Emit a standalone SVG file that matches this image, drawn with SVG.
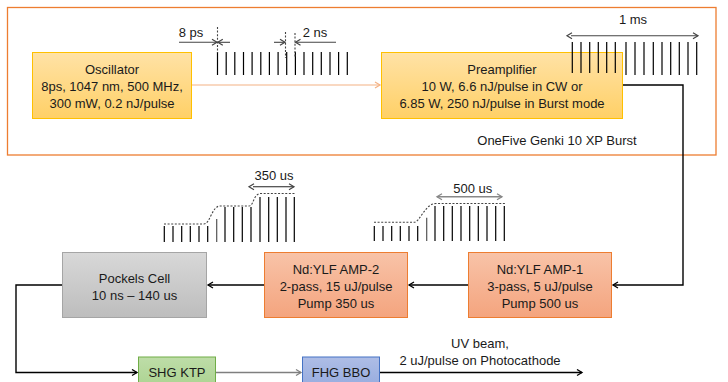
<svg xmlns="http://www.w3.org/2000/svg" width="728" height="382" viewBox="0 0 728 382">
<style>
text{font-family:"Liberation Sans",Arial,sans-serif;font-size:13px;fill:#1a1a1a;text-anchor:middle}
.conn{fill:none;stroke:#000;stroke-width:1.4}
.pulse{stroke:#000;stroke-width:1.2}
.dash{fill:none;stroke:#444;stroke-width:1.1;stroke-dasharray:2 1.6}
.dim{stroke:#444;stroke-width:1.1;fill:none}
</style>
<defs>
<linearGradient id="gY" x1="0" y1="0" x2="0" y2="1"><stop offset="0" stop-color="#FFE2A6"/><stop offset="1" stop-color="#FFD066"/></linearGradient>
<linearGradient id="gO" x1="0" y1="0" x2="0" y2="1"><stop offset="0" stop-color="#F8C3A8"/><stop offset="1" stop-color="#F4A47E"/></linearGradient>
<linearGradient id="gG" x1="0" y1="0" x2="0" y2="1"><stop offset="0" stop-color="#D8D8D8"/><stop offset="1" stop-color="#BDBDBD"/></linearGradient>
<linearGradient id="gGr" x1="0" y1="0" x2="0" y2="1"><stop offset="0" stop-color="#BEDDA8"/><stop offset="1" stop-color="#A6D08A"/></linearGradient>
<linearGradient id="gB" x1="0" y1="0" x2="0" y2="1"><stop offset="0" stop-color="#AEBDE6"/><stop offset="1" stop-color="#8FA6DC"/></linearGradient>
<marker id="ah" markerWidth="8" markerHeight="8" refX="6" refY="4" orient="auto" markerUnits="userSpaceOnUse"><path d="M1,1 L6,4 L1,7" fill="none" stroke="context-stroke" stroke-width="1.3"/></marker>
<marker id="ahk" markerWidth="8" markerHeight="8" refX="6" refY="4" orient="auto" markerUnits="userSpaceOnUse"><path d="M1,1 L6,4 L1,7" fill="none" stroke="#000" stroke-width="1.3"/></marker>
<marker id="ahg" markerWidth="8" markerHeight="8" refX="6" refY="4" orient="auto" markerUnits="userSpaceOnUse"><path d="M1,1 L6,4 L1,7" fill="none" stroke="#444" stroke-width="1.2"/></marker>
<marker id="ahgs" markerWidth="8" markerHeight="8" refX="2" refY="4" orient="auto-start-reverse" markerUnits="userSpaceOnUse"><path d="M1,1 L6,4 L1,7" fill="none" stroke="#444" stroke-width="1.2"/></marker>
<marker id="aho" markerWidth="8" markerHeight="8" refX="6" refY="4" orient="auto" markerUnits="userSpaceOnUse"><path d="M1,1 L6,4 L1,7" fill="none" stroke="#F4B183" stroke-width="1.2"/></marker>
<marker id="ahgr" markerWidth="8" markerHeight="8" refX="6" refY="4" orient="auto" markerUnits="userSpaceOnUse"><path d="M1,1 L6,4 L1,7" fill="none" stroke="#7F7F7F" stroke-width="1.2"/></marker>
<marker id="ahl" markerWidth="8" markerHeight="8" refX="6" refY="4" orient="auto-start-reverse" markerUnits="userSpaceOnUse"><path d="M1,1 L6,4 L1,7" fill="none" stroke="#888" stroke-width="1.3"/></marker>
</defs>
<rect width="728" height="382" fill="#fff"/>
<g id="laser-system">
<rect x="7.5" y="7.5" width="708.5" height="147.5" fill="none" stroke="#ED7D31" stroke-width="1.3"/>
<text x="557" y="144.5">OneFive Genki 10 XP Burst</text>
</g>
<g id="connectors">
<line x1="192" y1="85" x2="380" y2="85" stroke="#F4B183" stroke-width="1.2" marker-end="url(#aho)"/>
<path class="conn" d="M623,85 H683 V285 H613" marker-end="url(#ahk)"/>
<line class="conn" x1="468" y1="285" x2="409" y2="285" stroke-width="1.2" marker-end="url(#ahk)"/>
<line class="conn" x1="264" y1="285" x2="208" y2="285" stroke-width="1.2" marker-end="url(#ahk)"/>
<path class="conn" d="M62,285 H16 V372.5 H137" marker-end="url(#ahk)"/>
<line x1="216" y1="372.5" x2="301" y2="372.5" stroke="#7F7F7F" stroke-width="1.3" marker-end="url(#ahgr)"/>
<line class="conn" x1="380" y1="372.5" x2="582" y2="372.5" marker-end="url(#ahk)"/>
</g>
<g id="oscillator">
<rect x="32.5" y="52.5" width="159" height="66" fill="url(#gY)" stroke="#FFC000" stroke-width="1"/>
<text x="112" y="74">Oscillator</text>
<text x="112" y="91">8ps, 1047 nm, 500 MHz,</text>
<text x="112" y="108">300 mW, 0.2 nJ/pulse</text>
</g>
<g id="preamplifier">
<rect x="381.5" y="52.5" width="241" height="66" fill="url(#gY)" stroke="#FFC000" stroke-width="1"/>
<text x="502" y="74">Preamplifier</text>
<text x="502" y="91">10 W, 6.6 nJ/pulse in CW or</text>
<text x="502" y="108">6.85 W, 250 nJ/pulse in Burst mode</text>
</g>
<g id="amp1">
<rect x="468.5" y="252.5" width="143" height="65" fill="url(#gO)" stroke="#ED7D31" stroke-width="1"/>
<text x="540" y="273.5">Nd:YLF AMP-1</text>
<text x="540" y="290.5">3-pass, 5 uJ/pulse</text>
<text x="540" y="307.5">Pump 500 us</text>
</g>
<g id="amp2">
<rect x="264.5" y="252.5" width="143" height="65" fill="url(#gO)" stroke="#ED7D31" stroke-width="1"/>
<text x="336" y="273.5">Nd:YLF AMP-2</text>
<text x="336" y="290.5">2-pass, 15 uJ/pulse</text>
<text x="336" y="307.5">Pump 350 us</text>
</g>
<g id="pockels">
<rect x="62.5" y="252.5" width="144" height="65" fill="url(#gG)" stroke="#A5A5A5" stroke-width="1"/>
<text x="134.5" y="282.5">Pockels Cell</text>
<text x="134.5" y="299.5">10 ns – 140 us</text>
</g>
<g id="shg">
<rect x="138.5" y="357" width="77" height="40" fill="url(#gGr)" stroke="#70AD47" stroke-width="1"/>
<text x="177" y="377">SHG KTP</text>
</g>
<g id="fhg">
<rect x="302.5" y="357" width="77" height="40" fill="url(#gB)" stroke="#4472C4" stroke-width="1"/>
<text x="341" y="377">FHG BBO</text>
</g>
<g id="uv-label">
<text x="480" y="347.5">UV beam,</text>
<text x="480" y="365">2 uJ/pulse on Photocathode</text>
</g>
<g id="pulse-trains">
<g class="pulse">
<line x1="217.5" y1="52" x2="217.5" y2="75"/><line x1="226.2" y1="52" x2="226.2" y2="75"/><line x1="234.8" y1="52" x2="234.8" y2="75"/><line x1="243.5" y1="52" x2="243.5" y2="75"/><line x1="252.1" y1="52" x2="252.1" y2="75"/><line x1="260.8" y1="52" x2="260.8" y2="75"/><line x1="269.4" y1="52" x2="269.4" y2="75"/><line x1="278.1" y1="52" x2="278.1" y2="75"/><line x1="286.7" y1="52" x2="286.7" y2="75"/><line x1="295.4" y1="52" x2="295.4" y2="75"/><line x1="304" y1="52" x2="304" y2="75"/><line x1="312.7" y1="52" x2="312.7" y2="75"/><line x1="321.3" y1="52" x2="321.3" y2="75"/><line x1="330" y1="52" x2="330" y2="75"/><line x1="338.6" y1="52" x2="338.6" y2="75"/><line x1="347.3" y1="52" x2="347.3" y2="75"/>
</g>
<g class="dim">
<line x1="179" y1="42.3" x2="217" y2="42.3" marker-end="url(#ahg)"/>
<line x1="230" y1="42.3" x2="217.8" y2="42.3" marker-end="url(#ahg)"/>
<line x1="274" y1="42.3" x2="285" y2="42.3" marker-end="url(#ahg)"/>
<line x1="336" y1="42.3" x2="295.5" y2="42.3" marker-end="url(#ahg)"/>
</g>
<line class="dash" x1="217.5" y1="27" x2="217.5" y2="53"/>
<line class="dash" x1="285.5" y1="32" x2="285.5" y2="58"/>
<line class="dash" x1="295" y1="33" x2="295" y2="58"/>
<text x="191" y="37">8 ps</text>
<text x="315" y="37">2 ns</text>
<g class="pulse">
<line x1="572.3" y1="42" x2="572.3" y2="73"/><line x1="581" y1="42" x2="581" y2="73"/><line x1="589.7" y1="42" x2="589.7" y2="73"/><line x1="598.3" y1="42" x2="598.3" y2="73"/><line x1="606.7" y1="42" x2="606.7" y2="73"/><line x1="615.3" y1="42" x2="615.3" y2="73"/><line x1="626" y1="42" x2="626" y2="75"/><line x1="635" y1="42" x2="635" y2="75"/><line x1="644" y1="42" x2="644" y2="75"/><line x1="653.3" y1="42" x2="653.3" y2="75"/><line x1="662" y1="42" x2="662" y2="75"/><line x1="670.7" y1="42" x2="670.7" y2="75"/><line x1="679.3" y1="42" x2="679.3" y2="75"/><line x1="688" y1="42" x2="688" y2="75"/><line x1="696.7" y1="42" x2="696.7" y2="75"/>
</g>
<line x1="571" y1="35.7" x2="698" y2="35.7" stroke="#444" stroke-width="1.1" marker-start="url(#ahgs)" marker-end="url(#ahg)"/>
<text x="633" y="24">1 ms</text>
<g class="pulse">
<line x1="164.3" y1="226" x2="164.3" y2="242"/><line x1="173" y1="226" x2="173" y2="242"/><line x1="181.7" y1="226" x2="181.7" y2="242"/><line x1="190.3" y1="226" x2="190.3" y2="242"/><line x1="199" y1="226" x2="199" y2="242"/><line x1="207.7" y1="226" x2="207.7" y2="242"/><line x1="216.7" y1="219" x2="216.7" y2="242" stroke="#555"/><line x1="225" y1="207" x2="225" y2="242"/><line x1="233.7" y1="207" x2="233.7" y2="242"/><line x1="242.3" y1="207" x2="242.3" y2="242"/><line x1="251" y1="207" x2="251" y2="242"/><line x1="260" y1="197" x2="260" y2="242"/><line x1="268.7" y1="197" x2="268.7" y2="242"/><line x1="277.3" y1="197" x2="277.3" y2="242"/><line x1="286" y1="197" x2="286" y2="242"/><line x1="294.3" y1="197" x2="294.3" y2="242"/>
</g>
<path class="dash" d="M164,224 H204 C210,224 212,206 220,206 H249 C254,206 253,193.5 261,193.5 H296"/>
<line x1="253" y1="186.7" x2="294" y2="186.7" stroke="#222" stroke-width="1.1" marker-start="url(#ahgs)" marker-end="url(#ahg)"/>
<text x="274" y="180">350 us</text>
<g class="pulse">
<line x1="374.3" y1="226" x2="374.3" y2="241"/><line x1="383" y1="226" x2="383" y2="241"/><line x1="391.7" y1="226" x2="391.7" y2="241"/><line x1="400.3" y1="226" x2="400.3" y2="241"/><line x1="409" y1="226" x2="409" y2="241"/><line x1="417.7" y1="226" x2="417.7" y2="241"/><line x1="426.7" y1="217.7" x2="426.7" y2="241" stroke="#555"/><line x1="435" y1="206" x2="435" y2="241"/><line x1="443.7" y1="206" x2="443.7" y2="241"/><line x1="452.3" y1="206" x2="452.3" y2="241"/><line x1="461" y1="206" x2="461" y2="241"/><line x1="469.7" y1="206" x2="469.7" y2="241"/><line x1="478.3" y1="206" x2="478.3" y2="241"/><line x1="487" y1="206" x2="487" y2="241"/><line x1="495.7" y1="206" x2="495.7" y2="241"/><line x1="504.3" y1="206" x2="504.3" y2="241"/>
</g>
<path class="dash" d="M374,222.3 H414 C420,222.3 425,203.5 436,203.5 H505"/>
<line x1="437" y1="196.7" x2="502" y2="196.7" stroke="#888" stroke-width="1.4" marker-start="url(#ahl)" marker-end="url(#ahl)"/>
<text x="472.7" y="193">500 us</text>
</g>
</svg>
